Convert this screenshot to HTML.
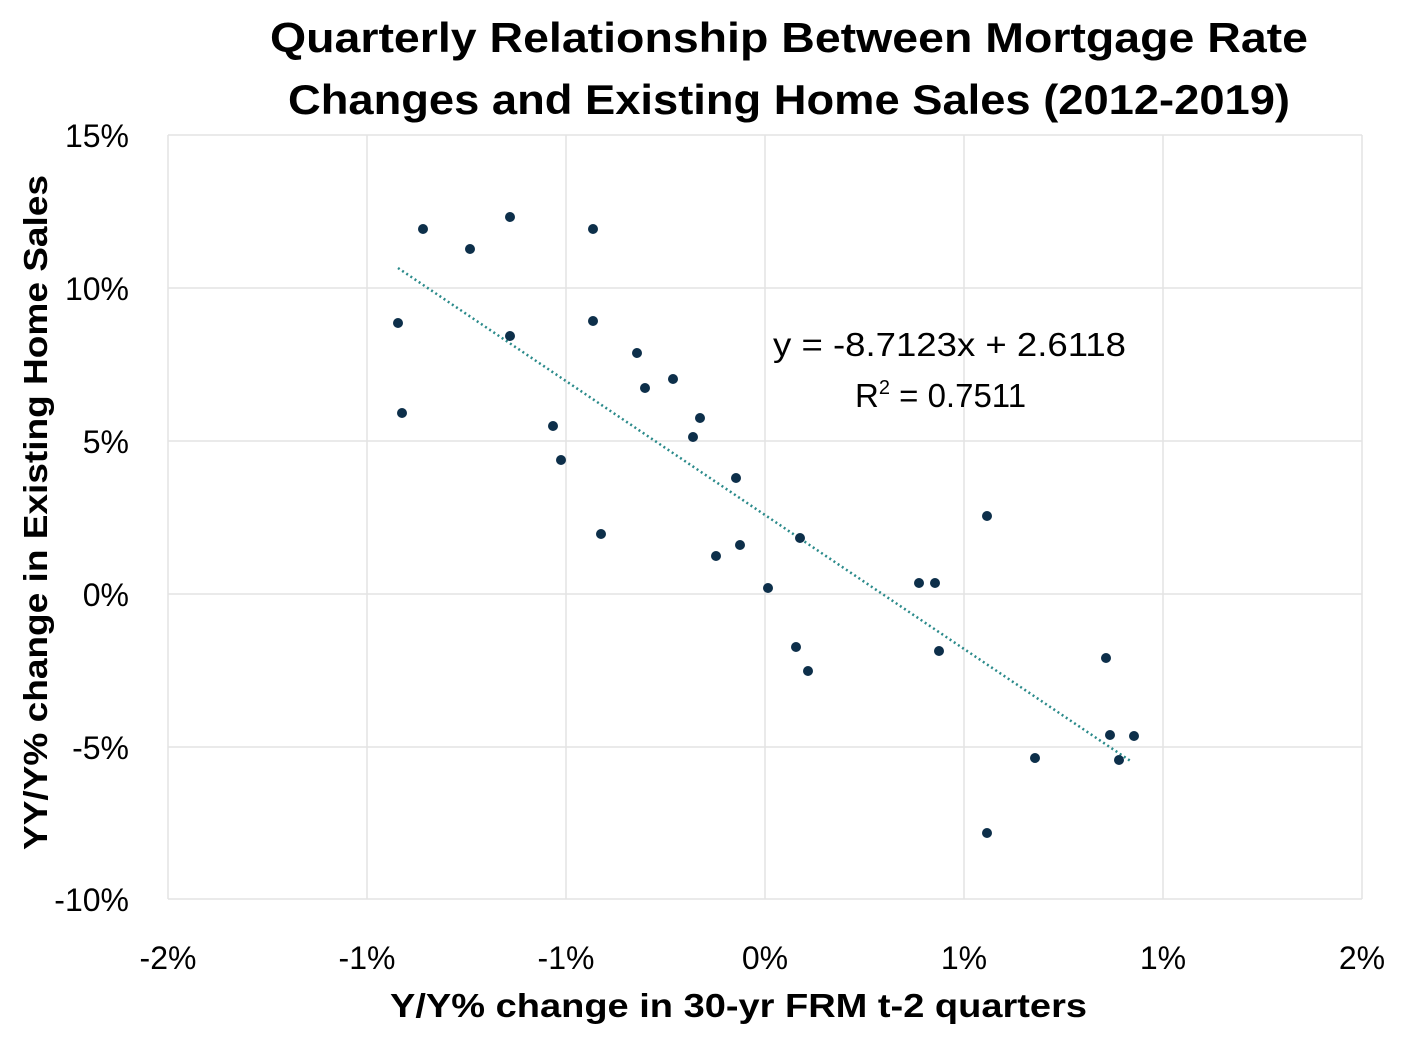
<!DOCTYPE html>
<html><head><meta charset="utf-8"><style>
html,body{margin:0;padding:0;background:#fff;}
</style></head><body>
<svg width="1422" height="1033" xmlns="http://www.w3.org/2000/svg" font-family="Liberation Sans, sans-serif">
<rect width="1422" height="1033" fill="#fff"/>
<g stroke="#e3e3e3" stroke-width="1.5">
<line x1="168" y1="135" x2="1362" y2="135"/><line x1="168" y1="288" x2="1362" y2="288"/>
<line x1="168" y1="441" x2="1362" y2="441"/><line x1="168" y1="594" x2="1362" y2="594"/>
<line x1="168" y1="747" x2="1362" y2="747"/><line x1="168" y1="899" x2="1362" y2="899"/>
<line x1="168" y1="135" x2="168" y2="899"/><line x1="367" y1="135" x2="367" y2="899"/>
<line x1="566" y1="135" x2="566" y2="899"/><line x1="765" y1="135" x2="765" y2="899"/>
<line x1="964" y1="135" x2="964" y2="899"/><line x1="1163" y1="135" x2="1163" y2="899"/>
<line x1="1362" y1="135" x2="1362" y2="899"/>
</g>
<line x1="398" y1="268" x2="1132" y2="762" stroke="#2a8a8a" stroke-width="2.5" stroke-dasharray="2,3"/>
<g fill="#0d2f4a">
<circle cx="423" cy="229" r="5"/><circle cx="470" cy="249" r="5"/><circle cx="510" cy="217" r="5"/><circle cx="593" cy="229" r="5"/>
<circle cx="398" cy="323" r="5"/><circle cx="510" cy="336" r="5"/><circle cx="593" cy="321" r="5"/><circle cx="402" cy="413" r="5"/>
<circle cx="637" cy="353" r="5"/><circle cx="645" cy="388" r="5"/><circle cx="673" cy="379" r="5"/><circle cx="700" cy="418" r="5"/>
<circle cx="693" cy="437" r="5"/><circle cx="553" cy="426" r="5"/><circle cx="561" cy="460" r="5"/><circle cx="736" cy="478" r="5"/>
<circle cx="601" cy="534" r="5"/><circle cx="716" cy="556" r="5"/><circle cx="740" cy="545" r="5"/><circle cx="800" cy="538" r="5"/>
<circle cx="768" cy="588" r="5"/><circle cx="796" cy="647" r="5"/><circle cx="808" cy="671" r="5"/><circle cx="919" cy="583" r="5"/>
<circle cx="935" cy="583" r="5"/><circle cx="939" cy="651" r="5"/><circle cx="987" cy="516" r="5"/><circle cx="987" cy="833" r="5"/>
<circle cx="1035" cy="758" r="5"/><circle cx="1106" cy="658" r="5"/><circle cx="1110" cy="735" r="5"/><circle cx="1134" cy="736" r="5"/>
<circle cx="1119" cy="760" r="5"/>
</g>
<g font-size="42" font-weight="bold" fill="#000">
<text x="270" y="52" textLength="1038" lengthAdjust="spacingAndGlyphs">Quarterly Relationship Between Mortgage Rate</text>
<text x="288" y="114" textLength="1002" lengthAdjust="spacingAndGlyphs">Changes and Existing Home Sales (2012-2019)</text>
</g>
<g font-size="32" text-anchor="end" fill="#000">
<text x="129" y="147">15%</text><text x="129" y="300">10%</text><text x="129" y="453">5%</text>
<text x="129" y="606">0%</text><text x="129" y="759">-5%</text><text x="129" y="911">-10%</text>
</g>
<g font-size="32" text-anchor="middle" fill="#000">
<text x="168" y="969">-2%</text><text x="367" y="969">-1%</text><text x="566" y="969">-1%</text>
<text x="765" y="969">0%</text><text x="964" y="969">1%</text><text x="1163" y="969">1%</text><text x="1362" y="969">2%</text>
</g>
<text x="390" y="1017" font-size="33" font-weight="bold" textLength="697" lengthAdjust="spacingAndGlyphs">Y/Y% change in 30-yr FRM t-2 quarters</text>
<text transform="translate(47,850) rotate(-90)" font-size="33" font-weight="bold" textLength="675" lengthAdjust="spacingAndGlyphs">YY/Y% change in Existing Home Sales</text>
<g font-size="33" fill="#000">
<text x="773" y="356" textLength="353" lengthAdjust="spacingAndGlyphs">y = -8.7123x + 2.6118</text>
<text x="855" y="407">R<tspan font-size="20" dy="-13">2</tspan><tspan dy="13"> = 0.7511</tspan></text>
</g>
</svg>
</body></html>
